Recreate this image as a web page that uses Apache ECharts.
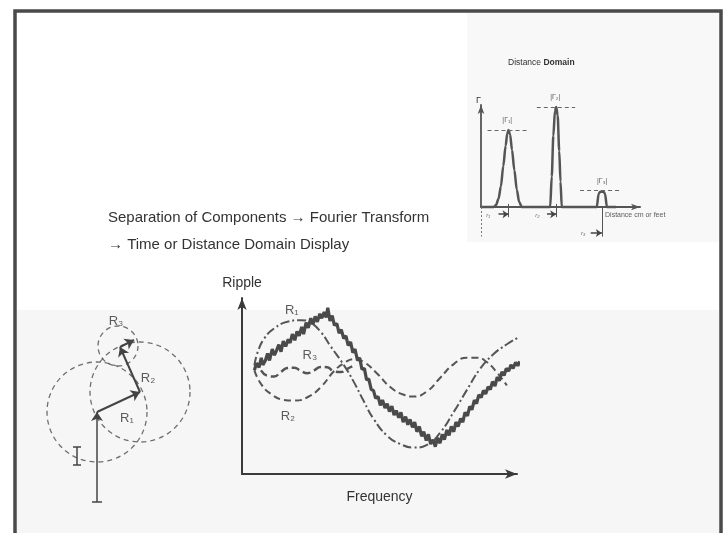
<!DOCTYPE html>
<html><head><meta charset="utf-8">
<script src="https://cdn.jsdelivr.net/npm/echarts@6/dist/echarts.min.js"></script>
<style>html,body{margin:0;padding:0;background:#fff}#c{width:725px;height:533px}</style>
</head><body><div id="c"></div>
<script>
// ---------- Main "Ripple vs Frequency" panel (frequency 0-100, ripple 0-10) ----------
const r1Curve = [[4.5,6.17],[5.7,6.93],[8.1,7.70],[11.7,8.27],[16.5,8.65],[21.4,8.74],[25.0,8.59],[28.6,8.08],[32.2,7.26],[37.1,6.17],[40.7,5.22],[44.3,4.13],[47.9,3.12],[52.8,2.17],[57.6,1.70],[62.4,1.50],[67.3,1.66],[72.1,2.36],[76.9,3.50],[81.8,4.78],[86.6,5.98],[91.4,6.80],[96.3,7.37],[101.0,7.80]];
const r2Curve = [[4.5,5.89],[6.9,5.12],[10.5,4.55],[15.3,4.21],[19.0,4.17],[23.8,4.36],[28.6,4.93],[33.5,5.85],[37.1,6.30],[40.7,6.53],[44.3,6.36],[49.2,5.70],[54.0,4.93],[58.8,4.50],[62.4,4.40],[67.3,4.70],[72.1,5.47],[76.9,6.23],[81.8,6.61],[85.4,6.61],[89.0,6.36],[92.6,5.79],[96.3,5.03]];
const r3Curve = [[6.9,5.89],[9.3,5.58],[11.7,5.54],[14.1,5.79],[16.5,6.02],[19.0,6.04],[21.4,5.85],[23.8,5.73],[26.2,5.89],[28.6,6.08],[31.0,6.06],[33.5,5.83],[35.9,5.79],[38.3,5.98],[40.1,6.11]];
const sumCurve = [[4.5,5.9],[5.3,6.3],[6.2,6.05],[7.0,6.6],[7.6,6.2],[8.5,6.45],[9.3,6.85],[10.0,6.45],[11.0,7.1],[11.8,6.75],[12.5,7.0],[13.4,7.35],[14.2,6.95],[15.0,7.55],[15.9,7.25],[16.8,7.65],[17.5,7.45],[18.3,7.95],[19.2,7.6],[20.0,8.1],[20.8,7.85],[21.7,8.35],[22.4,7.95],[23.3,8.6],[24.1,8.3],[25.0,8.85],[25.8,8.5],[26.6,8.95],[27.4,8.65],[28.3,9.1],[29.0,8.85],[29.9,9.2],[30.6,8.9],[31.2,9.45],[32.0,8.7],[32.8,9.0],[33.6,8.45],[34.5,8.55],[35.3,8.0],[36.1,8.2],[37.0,7.7],[37.8,7.85],[38.6,7.3],[39.5,7.5],[40.3,6.9],[41.1,7.1],[42.0,6.45],[42.8,6.6],[43.6,5.95],[44.5,6.0],[45.3,5.35],[46.1,5.4],[47.0,4.8],[47.8,4.75],[48.6,4.3],[49.5,4.4],[50.3,3.9],[51.1,4.2],[52.0,3.75],[52.8,4.0],[53.6,3.55],[54.5,3.85],[55.3,3.35],[56.1,3.6],[57.0,3.2],[57.8,3.5],[58.6,2.95],[59.5,3.25],[60.3,2.8],[61.1,3.1],[62.0,2.65],[62.8,2.95],[63.6,2.4],[64.5,2.7],[65.3,2.15],[66.1,2.4],[67.0,1.9],[67.8,2.25],[68.6,1.7],[69.5,1.95],[70.3,1.55],[71.1,2.05],[72.0,1.75],[72.8,2.25],[73.6,1.95],[74.5,2.5],[75.3,2.2],[76.1,2.7],[77.0,2.4],[77.8,2.95],[78.6,2.7],[79.5,3.15],[80.3,2.95],[81.1,3.5],[82.0,3.3],[82.8,3.85],[83.6,3.65],[84.5,4.2],[85.3,4.0],[86.1,4.5],[87.0,4.35],[87.8,4.75],[88.6,4.55],[89.5,4.95],[90.3,4.8],[91.1,5.25],[92.0,5.0],[92.8,5.5],[93.6,5.3],[94.5,5.8],[95.3,5.6],[96.1,6.0],[97.0,5.85],[97.8,6.2],[98.6,6.0],[99.5,6.35],[100.3,6.15],[101.0,6.4]];
const rippleLabels = [['R₁',18.1,9.32],['R₃',24.7,6.76],['R₂',16.7,3.26]];

// ---------- Phasor diagram (units) ----------
const phasorBase = [[0,-90],[0,0]];
const phasorBaseTick = [[-5,-90],[5,-90]];
const phasorR1 = [[0,0],[43,20]];
const phasorR2 = [[43,20],[23,65]];
const phasorR3 = [[23,65],[37,72]];
const phasorCircles = [[0,0,50],[43,20,50],[21,66,20]];
const phasorLabels = [['R₃',19,91],['R₂',51,34],['R₁',30,-6]];
const errorBar = [[-20,-35],[-20,-53]];
const errorBarTicks = [[[-24,-35],[-16,-35]],[[-24,-53],[-16,-53]]];

// ---------- Distance domain inset (distance 0-100, |Γ| 0-1) ----------
const gammaTrace = [[0,0],[8,0],[9.5,0.02],[11,0.08],[12.5,0.2],[14,0.4],[15.5,0.6],[16.5,0.72],[17.3,0.755],[18.3,0.71],[19.5,0.56],[21,0.36],[22.5,0.17],[24,0.05],[25.7,0],[43.5,0],[44.5,0.3],[45.5,0.7],[46.5,0.94],[47.3,0.98],[48.2,0.9],[49.2,0.55],[50,0.25],[50.8,0],[72.8,0],[74,0.13],[75,0.15],[77,0.15],[78,0.13],[79.2,0],[85,0]];
const gammaLevels = [[4.1,28.9,0.755],[35.1,59.2,0.98],[62.3,87.4,0.167]];
const gammaLabels = [['|Γ₁|',16.5,0.85],['|Γ₂|',46.7,1.08],['|Γ₃|',76.2,0.25]];
const distMarkers = [['r₁',4.6,-0.08,11,17.3,-0.07],['r₂',35.4,-0.08,41.5,47.3,-0.07],['r₃',64.2,-0.255,69,76,-0.255]];
const distTicks = [[[17.3,0.03],[17.3,-0.1]],[[47.3,0.03],[47.3,-0.1]],[[76,0],[76,-0.29]]];
const distOriginLine = [[0,0],[0,-0.29]];
const distAxisText = ['Distance cm or feet',78,-0.08];

const FONT = '"Liberation Sans", Arial, sans-serif';
const INK = '#444';
const chart = echarts.init(document.getElementById('c'), null, {renderer:'canvas'});

const phasorGrid = {left:37, top:302, width:120, height:200};
const phasorScale = phasorGrid.width / 120;

function labelSeries(xi, items, size, extra) {
  return Object.assign({
    type:'scatter', xAxisIndex:xi, yAxisIndex:xi, symbolSize:0, clip:false, silent:true, z:5,
    data: items.map(d => ({name:d[0], value:[d[1], d[2]]})),
    label:{show:true, position:'inside', formatter:'{b}', color:'#333', fontSize:size, fontFamily:FONT}
  }, extra || {});
}
function segs(xi, list, style, arrow, symSize) {
  return {
    type:'lines', coordinateSystem:'cartesian2d', xAxisIndex:xi, yAxisIndex:xi, silent:true, z:4, clip:false,
    symbol: arrow ? ['none','arrow'] : ['none','none'], symbolSize: symSize || 8,
    lineStyle: Object.assign({color:INK, width:1.5, opacity:1}, style),
    data: list.map(c => ({coords:c}))
  };
}
const axisBase = (extra) => Object.assign({
  type:'value', splitLine:{show:false}, axisTick:{show:false}, axisLabel:{show:false}
}, extra);

const option = {
  animation:false,
  backgroundColor:'#ffffff',
  graphic:[
    {type:'rect', z:-10, shape:{x:15,y:310,width:706,height:223}, style:{fill:'#f6f6f6'}},
    {type:'rect', z:-10, shape:{x:467,y:12,width:253,height:230}, style:{fill:'#f8f8f8'}},
    {type:'polyline', z:10, shape:{points:[[15,540],[15,11],[721,11],[721,540]]}, style:{stroke:'#4a4a4a', lineWidth:3.5, fill:null}}
  ],
  title:[
    {left:108, top:209, padding:0, text:'Separation of Components → Fourier Transform',
     textStyle:{fontSize:15, fontWeight:'normal', fontFamily:FONT, color:'#333', lineHeight:17}},
    {left:108, top:236, padding:0, text:'→ Time or Distance Domain Display',
     textStyle:{fontSize:15, fontWeight:'normal', fontFamily:FONT, color:'#333', lineHeight:17}},
    {left:508, top:58, padding:0, text:'Distance {b|Domain}',
     textStyle:{fontSize:8.5, fontWeight:'normal', fontFamily:FONT, color:'#333', rich:{b:{fontSize:8.5, fontWeight:'bold', fontFamily:FONT, color:'#333'}}}}
  ],
  grid:[
    {left:242, top:298, width:275, height:176},
    phasorGrid,
    {left:481, top:105, width:159, height:102}
  ],
  xAxis:[
    axisBase({gridIndex:0, min:0, max:100, name:'Frequency', nameLocation:'middle', nameGap:16,
      nameTextStyle:{fontSize:14, fontFamily:FONT, color:'#333'},
      axisLine:{show:true, symbol:['none','arrow'], symbolSize:[7,12], lineStyle:{color:'#3a3a3a', width:2}}}),
    axisBase({gridIndex:1, min:-60, max:60, show:false}),
    axisBase({gridIndex:2, min:0, max:100,
      axisLine:{show:true, symbol:['none','arrow'], symbolSize:[5,9], lineStyle:{color:'#555', width:2}}})
  ],
  yAxis:[
    axisBase({gridIndex:0, min:0, max:10, name:'Ripple', nameLocation:'end', nameGap:8,
      nameTextStyle:{fontSize:14, fontFamily:FONT, color:'#333'},
      axisLine:{show:true, symbol:['none','arrow'], symbolSize:[7,12], lineStyle:{color:'#3a3a3a', width:2}}}),
    axisBase({gridIndex:1, min:-90, max:110, show:false}),
    axisBase({gridIndex:2, min:0, max:1, name:'Γ', nameLocation:'end', nameGap:0,
      nameTextStyle:{fontSize:9, fontFamily:FONT, color:'#333', align:'right'},
      axisLine:{show:true, symbol:['none','arrow'], symbolSize:[5,9], lineStyle:{color:'#555', width:1.8}}})
  ],
  series:[
    // main panel
    {type:'line', xAxisIndex:0, yAxisIndex:0, data:r1Curve, smooth:true, showSymbol:false, clip:false, silent:true,
     lineStyle:{color:'#555', width:2, type:[9,3,2,3]}},
    {type:'line', xAxisIndex:0, yAxisIndex:0, data:r2Curve, smooth:true, showSymbol:false, clip:false, silent:true,
     lineStyle:{color:'#555', width:2, type:[7,4]}},
    {type:'line', xAxisIndex:0, yAxisIndex:0, data:r3Curve, smooth:true, showSymbol:false, clip:false, silent:true,
     lineStyle:{color:'#555', width:2.5, type:[8,4]}},
    {type:'line', xAxisIndex:0, yAxisIndex:0, data:sumCurve, smooth:false, showSymbol:false, clip:false, silent:true,
     lineStyle:{color:'#4a4a4a', width:3.2}},
    labelSeries(0, rippleLabels, 13),
    // phasor diagram
    {type:'scatter', xAxisIndex:1, yAxisIndex:1, data:phasorCircles, clip:false, silent:true, z:3,
     symbol:'circle', symbolSize:(v) => 2 * v[2] * phasorScale,
     itemStyle:{color:'rgba(0,0,0,0)', borderColor:'#4d4d4d', borderWidth:1.3, borderType:[5,4]}},
    segs(1, [phasorBase], {width:1.5}, true, 9),
    segs(1, [phasorBaseTick, errorBar].concat(errorBarTicks), {width:1.5}, false),
    segs(1, [phasorR1, phasorR2, phasorR3], {width:2}, true, 9),
    labelSeries(1, phasorLabels, 13),
    // distance-domain inset
    {type:'line', xAxisIndex:2, yAxisIndex:2, data:gammaTrace, smooth:0.3, smoothMonotone:'x', showSymbol:false, clip:false, silent:true,
     lineStyle:{color:'#555', width:2.5}},
    segs(2, gammaLevels.map(g => [[g[0],g[2]],[g[1],g[2]]]), {width:1, color:'#666', type:[4,3]}, false),
    segs(2, distMarkers.map(m => [[m[3],m[5]],[m[4],m[5]]]), {width:1.5, color:'#444'}, true, 6),
    segs(2, distTicks, {width:1, color:'#555'}, false),
    segs(2, [distOriginLine], {width:1, color:'#777', type:[2,2]}, false),
    labelSeries(2, gammaLabels, 7),
    labelSeries(2, distMarkers.map(m => [m[0],m[1],m[2]]), 6, {label:{show:true, position:'inside', formatter:'{b}', color:'#444', fontSize:6, fontStyle:'italic', fontFamily:FONT}}),
    labelSeries(2, [distAxisText], 7, {label:{show:true, position:'right', distance:0, formatter:'{b}', color:'#333', fontSize:7, fontFamily:FONT}})
  ]
};
chart.setOption(option);
</script>
</body></html>
